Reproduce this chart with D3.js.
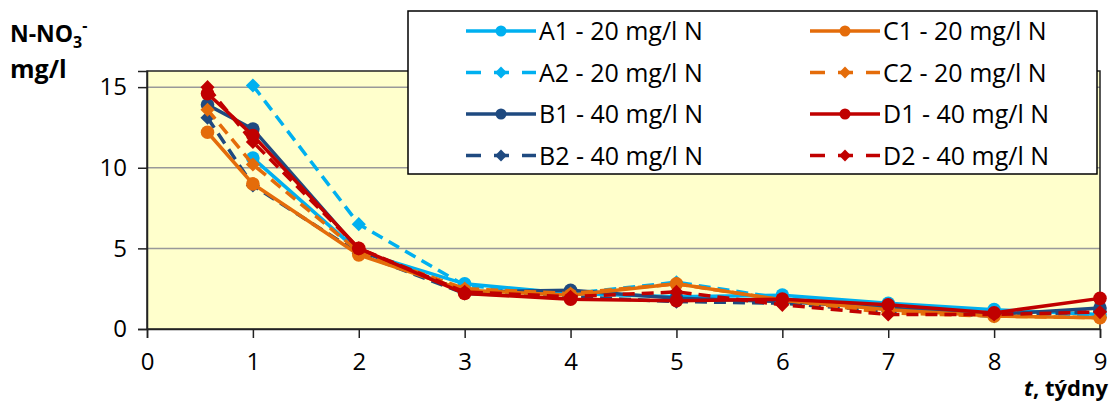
<!DOCTYPE html>
<html>
<head>
<meta charset="utf-8">
<script src="https://cdn.jsdelivr.net/npm/d3@7"></script>
<style>
  body { margin: 0; background: #fff; }
  text { font-family: "Open Sans", sans-serif; fill: #000; }
</style>
</head>
<body>
<svg id="chart" width="1111" height="403"></svg>
<script>
// weeks (first sample after 4 days)
var weeks = [4/7, 1, 2, 3, 4, 5, 6, 7, 8, 9];

var a1 = [null, 10.6, 4.8, 2.8, 2.2, 2.0, 2.1, 1.6, 1.2, 0.9];
var a2 = [null, 15.1, 6.5, 2.7, 2.2, 2.9, 1.9, 1.3, 0.9, 0.75];
var b1 = [13.9, 12.4, 4.9, 2.3, 2.4, 1.9, 1.7, 1.3, 0.9, 1.3];
var b2 = [13.1, 8.9, 4.7, 2.2, 2.0, 1.7, 1.6, 1.1, 0.8, 1.1];
var c1 = [12.2, 9.0, 4.6, 2.4, 2.1, 2.8, 1.8, 1.2, 0.8, 0.7];
var c2 = [13.6, 10.2, 4.8, 2.5, 2.2, 2.8, 1.8, 1.0, 0.8, 0.7];
var d1 = [14.6, 12.0, 5.0, 2.2, 1.85, 1.75, 1.85, 1.5, 1.0, 1.9];
var d2 = [15.0, 11.6, 5.0, 2.3, 2.0, 2.3, 1.5, 0.9, 0.9, 1.05];

var seriesNames = ["A1 - 20 mg/l N", "A2 - 20 mg/l N", "B1 - 40 mg/l N", "B2 - 40 mg/l N",
                   "C1 - 20 mg/l N", "C2 - 20 mg/l N", "D1 - 40 mg/l N", "D2 - 40 mg/l N"];
var seriesValues = [a1, a2, b1, b2, c1, c2, d1, d2];
var seriesColors = ["#00b0f0", "#00b0f0", "#1f4a80", "#1f4a80", "#e46c0a", "#e46c0a", "#c00000", "#c00000"];

var yTicks = [0, 5, 10, 15];
var xTicks = [0, 1, 2, 3, 4, 5, 6, 7, 8, 9];

var svg = d3.select("#chart");

var margin = {left: 147, top: 71, right: 11, bottom: 74};
var width = 1111 - margin.left - margin.right,
    height = 403 - margin.top - margin.bottom;

var x = d3.scaleLinear().domain([0, 9]).range([0, width]);
var y = d3.scaleLinear().domain([0, 16]).range([height, 0]);

var g = svg.append("g")
  .attr("transform", "translate(" + margin.left + "," + margin.top + ")");

// plot background
g.append("rect")
  .attr("width", width)
  .attr("height", height)
  .attr("fill", "#ffffcc");

// gridlines
g.selectAll(".grid")
  .data(yTicks.filter(function(d){ return d > 0; }))
  .enter().append("line")
  .attr("class", "grid")
  .attr("x1", 0).attr("x2", width)
  .attr("y1", function(d){ return y(d); })
  .attr("y2", function(d){ return y(d); })
  .attr("stroke", "#999")
  .attr("stroke-width", 1.5);

// plot border
g.append("rect")
  .attr("width", width)
  .attr("height", height)
  .attr("fill", "none")
  .attr("stroke", "#222")
  .attr("stroke-width", 1.5);

// axes
var xAxis = g.append("g")
  .attr("transform", "translate(0," + height + ")")
  .call(d3.axisBottom(x).tickValues(xTicks).tickSize(9).tickPadding(15).tickFormat(d3.format("d")));
var yAxis = g.append("g")
  .call(d3.axisLeft(y).tickValues(yTicks).tickSize(9).tickPadding(11));

[xAxis, yAxis].forEach(function(ax){
  ax.select(".domain").attr("stroke", "#222").attr("stroke-width", 1.5);
  ax.selectAll(".tick line").attr("stroke", "#222").attr("stroke-width", 1.5);
  ax.selectAll(".tick text")
    .attr("font-family", "Open Sans, sans-serif")
    .attr("font-size", 24)
    .attr("fill", "#000");
});

// series
var line = d3.line()
  .defined(function(d){ return d[1] != null; })
  .x(function(d){ return x(d[0]); })
  .y(function(d){ return y(d[1]); });

// square turned 45 degrees, like the spreadsheet diamond marker
var diamond = d3.symbol().type(d3.symbolSquare).size(100);

seriesValues.forEach(function(vals, i){
  var pts = weeks.map(function(w, j){ return [w, vals[j]]; });
  var dashed = i % 2 == 1;
  g.append("path")
    .datum(pts)
    .attr("fill", "none")
    .attr("stroke", seriesColors[i])
    .attr("stroke-width", 3.5)
    .attr("stroke-dasharray", dashed ? "12,7" : null)
    .attr("d", line);

  var valid = pts.filter(function(d){ return d[1] != null; });
  if (dashed) {
    g.selectAll(".m" + i)
      .data(valid)
      .enter().append("path")
      .attr("transform", function(d){ return "translate(" + x(d[0]) + "," + y(d[1]) + ")rotate(45)"; })
      .attr("d", diamond)
      .attr("fill", seriesColors[i]);
  } else {
    g.selectAll(".m" + i)
      .data(valid)
      .enter().append("circle")
      .attr("cx", function(d){ return x(d[0]); })
      .attr("cy", function(d){ return y(d[1]); })
      .attr("r", 6.8)
      .attr("fill", seriesColors[i]);
  }
});

// legend
var legend = svg.append("g");
legend.append("rect")
  .attr("x", 408).attr("y", 11)
  .attr("width", 689).attr("height", 163)
  .attr("fill", "#fff")
  .attr("stroke", "#000")
  .attr("stroke-width", 1.5);

var legendDiamond = d3.symbol().type(d3.symbolSquare).size(70);

seriesNames.forEach(function(name, i){
  var col = Math.floor(i / 4), row = i % 4;
  var lx = col == 0 ? 466 : 810;
  var ly = 31 + row * 41.5;
  var dashed = i % 2 == 1;
  legend.append("line")
    .attr("x1", lx).attr("x2", lx + 70)
    .attr("y1", ly).attr("y2", ly)
    .attr("stroke", seriesColors[i])
    .attr("stroke-width", 3.5)
    .attr("stroke-dasharray", dashed ? "15,13" : null);
  if (dashed) {
    legend.append("path")
      .attr("transform", "translate(" + (lx + 35) + "," + ly + ")rotate(45)")
      .attr("d", legendDiamond)
      .attr("fill", seriesColors[i]);
  } else {
    legend.append("circle")
      .attr("cx", lx + 35).attr("cy", ly).attr("r", 5.5)
      .attr("fill", seriesColors[i]);
  }
  legend.append("text")
    .attr("x", lx + 73)
    .attr("y", ly + 9)
    .attr("font-size", 25)
    .text(name);
});

// axis titles
var yt = svg.append("text")
  .attr("x", 10).attr("y", 42)
  .attr("font-size", 23)
  .attr("font-weight", "bold");
yt.append("tspan").text("N-NO");
yt.append("tspan").attr("font-size", 16).attr("dy", 6).text("3");
yt.append("tspan").attr("font-size", 16).attr("dy", -17).text("-");

svg.append("text")
  .attr("x", 10).attr("y", 78)
  .attr("font-size", 25)
  .attr("font-weight", "bold")
  .text("mg/l");

// x title sits right under the last tick label, as in the original
var xt = svg.append("text")
  .attr("x", 1108).attr("y", 396)
  .attr("text-anchor", "end")
  .attr("font-size", 22)
  .attr("font-weight", "bold");
xt.append("tspan").attr("font-style", "italic").text("t");
xt.append("tspan").text(", týdny");
</script>
</body>
</html>
